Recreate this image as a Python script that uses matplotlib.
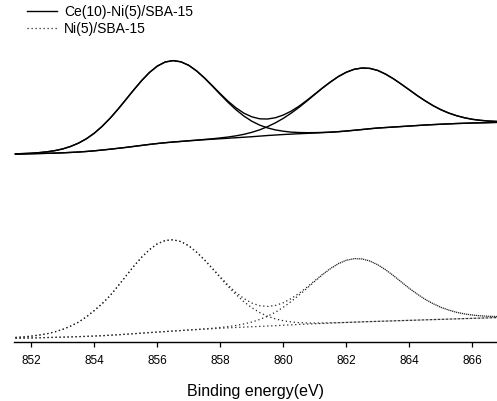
import matplotlib
matplotlib.use('Agg')
import matplotlib.pyplot as plt
import numpy as np

plt.rcParams['font.family'] = ['Liberation Sans', 'DejaVu Sans']

# binding energy grid (eV), 0.25 eV steps
energy = [851.5, 851.75, 852.0, 852.25, 852.5, 852.75, 853.0, 853.25, 853.5, 853.75,
          854.0, 854.25, 854.5, 854.75, 855.0, 855.25, 855.5, 855.75, 856.0, 856.25,
          856.5, 856.75, 857.0, 857.25, 857.5, 857.75, 858.0, 858.25, 858.5, 858.75,
          859.0, 859.25, 859.5, 859.75, 860.0, 860.25, 860.5, 860.75, 861.0, 861.25,
          861.5, 861.75, 862.0, 862.25, 862.5, 862.75, 863.0, 863.25, 863.5, 863.75,
          864.0, 864.25, 864.5, 864.75, 865.0, 865.25, 865.5, 865.75, 866.0, 866.25,
          866.5, 866.75, 867.0]

# Ce(10)-Ni(5)/SBA-15 : background and the two fitted components (above background)
ce_background = [188.0, 188.15, 188.3, 188.5, 188.7, 188.9, 189.2, 189.6, 190.0, 190.55,
                 191.2, 192.0, 192.8, 193.7, 194.6, 195.6, 196.6, 197.6, 198.5, 199.3,
                 200.0, 200.6, 201.2, 201.75, 202.3, 202.8, 203.3, 203.8, 204.3, 204.8,
                 205.3, 205.9, 206.5, 207.0, 207.5, 207.9, 208.3, 208.65, 209.0, 209.4,
                 209.8, 210.35, 211.0, 211.75, 212.5, 213.3, 214.0, 214.5, 215.0, 215.5,
                 216.0, 216.5, 217.0, 217.4, 217.8, 218.15, 218.5, 218.75, 219.0, 219.2,
                 219.4, 219.6, 219.8]
ce_peak1 = [0.2, 0.3, 0.5, 0.9, 1.5, 2.5, 3.9, 6.0, 8.9, 12.7,
            17.6, 23.7, 30.9, 39.0, 47.7, 56.4, 64.7, 71.9, 77.4, 80.7,
            81.4, 79.6, 75.4, 69.2, 61.5, 53.0, 44.2, 35.7, 27.9, 21.1,
            15.5, 11.0, 7.6, 5.1, 3.3, 2.0, 1.2, 0.7, 0.4, 0.2,
            0.1, 0, 0, 0, 0, 0, 0, 0, 0, 0,
            0, 0, 0, 0, 0, 0, 0, 0, 0, 0,
            0, 0, 0]
ce_peak2 = [0, 0, 0, 0, 0, 0, 0, 0, 0, 0,
            0, 0, 0, 0, 0, 0, 0, 0, 0, 0,
            0, 0, 0.1, 0.15, 0.3, 0.45, 0.8, 1.2, 1.9, 2.9,
            4.4, 6.3, 8.9, 12.2, 16.2, 21.0, 26.4, 32.4, 38.6, 44.7,
            50.3, 55.2, 58.8, 61.0, 61.5, 60.3, 57.5, 53.3, 48.1, 42.2,
            36.1, 29.9, 24.2, 19.0, 14.5, 10.8, 7.8, 5.5, 3.7, 2.5,
            1.6, 1.0, 0.6]

# Ni(5)/SBA-15
ni_background = [3.8, 3.95, 4.1, 4.3, 4.5, 4.7, 4.9, 5.15, 5.4, 5.7,
                 6.0, 6.4, 6.8, 7.3, 7.8, 8.35, 8.9, 9.45, 10.0, 10.5,
                 11.0, 11.5, 12.0, 12.45, 12.9, 13.35, 13.8, 14.2, 14.6, 14.95,
                 15.3, 15.65, 16.0, 16.4, 16.8, 17.2, 17.6, 17.95, 18.3, 18.65,
                 19.0, 19.3, 19.6, 19.9, 20.2, 20.45, 20.7, 20.95, 21.2, 21.45,
                 21.7, 21.95, 22.2, 22.45, 22.7, 22.95, 23.2, 23.45, 23.7, 23.95,
                 24.2, 24.45, 24.7]
ni_peak1 = [0.8, 1.2, 1.8, 2.7, 3.8, 5.5, 7.8, 10.8, 14.5, 19.5,
            25.5, 32.0, 39.5, 48.6, 58.0, 67.3, 75.8, 82.9, 88.2, 91.0,
            91.3, 88.9, 84.2, 77.3, 69.1, 59.9, 50.5, 41.3, 32.8, 25.3,
            19.0, 13.8, 9.8, 6.7, 4.5, 2.9, 1.8, 1.1, 0.7, 0.4,
            0.2, 0.1, 0, 0, 0, 0, 0, 0, 0, 0,
            0, 0, 0, 0, 0, 0, 0, 0, 0, 0,
            0, 0, 0]
ni_peak2 = [0, 0, 0, 0, 0, 0, 0, 0, 0, 0,
            0, 0, 0, 0, 0, 0, 0, 0, 0, 0,
            0, 0, 0.1, 0.15, 0.3, 0.46, 0.8, 1.3, 2.0, 3.2,
            4.7, 6.9, 9.8, 13.5, 18.0, 23.4, 29.4, 35.8, 42.5, 48.8,
            54.5, 59.1, 62.2, 63.5, 62.9, 60.5, 56.5, 51.2, 45.1, 38.5,
            31.9, 26.0, 20.5, 16.0, 12.0, 9.0, 6.5, 4.7, 3.3, 2.3,
            1.6, 1.1, 0.8]

labels = ['Ce(10)-Ni(5)/SBA-15', 'Ni(5)/SBA-15']
xticks = [852, 854, 856, 858, 860, 862, 864, 866]

fig = plt.figure(figsize=(4.97, 4.01), dpi=100, facecolor='white')
ax = fig.add_axes([0.028, 0.147, 0.972, 0.853])

x = np.array(energy)
solid = dict(color='black', linewidth=1.0, linestyle='-')
dotted = dict(color='#222222', linewidth=0.9, linestyle=(0, (1, 2.2)))

for bg, p1, p2, style, label in [
        (ce_background, ce_peak1, ce_peak2, solid, labels[0]),
        (ni_background, ni_peak1, ni_peak2, dotted, labels[1])]:
    bg, p1, p2 = np.array(bg), np.array(p1), np.array(p2)
    ax.plot(x, bg + p1 + p2, label=label, **style)
    ax.plot(x, bg + p1, **style)
    ax.plot(x, bg + p2, **style)
    ax.plot(x, bg, **style)

ax.set_xlim(851.45, 866.78)
ax.set_ylim(0, 342)
ax.set_xticks(xticks)
ax.set_yticks([])
for side in ['left', 'right', 'top']:
    ax.spines[side].set_visible(False)
ax.spines['bottom'].set_linewidth(1.0)
ax.tick_params(axis='x', direction='out', length=3.5, width=0.9, pad=5.5,
               labelsize=8.5, colors='black')
ax.set_xlabel('Binding energy(eV)', fontsize=11.5, labelpad=12.5)

ax.legend(loc='upper left', bbox_to_anchor=(0.054, 0.988),
          bbox_transform=fig.transFigure, frameon=False, fontsize=10,
          handlelength=2.15, handletextpad=0.55, labelspacing=0.2,
          borderpad=0, borderaxespad=0)

fig.savefig('out.png', dpi=100, facecolor='white')
